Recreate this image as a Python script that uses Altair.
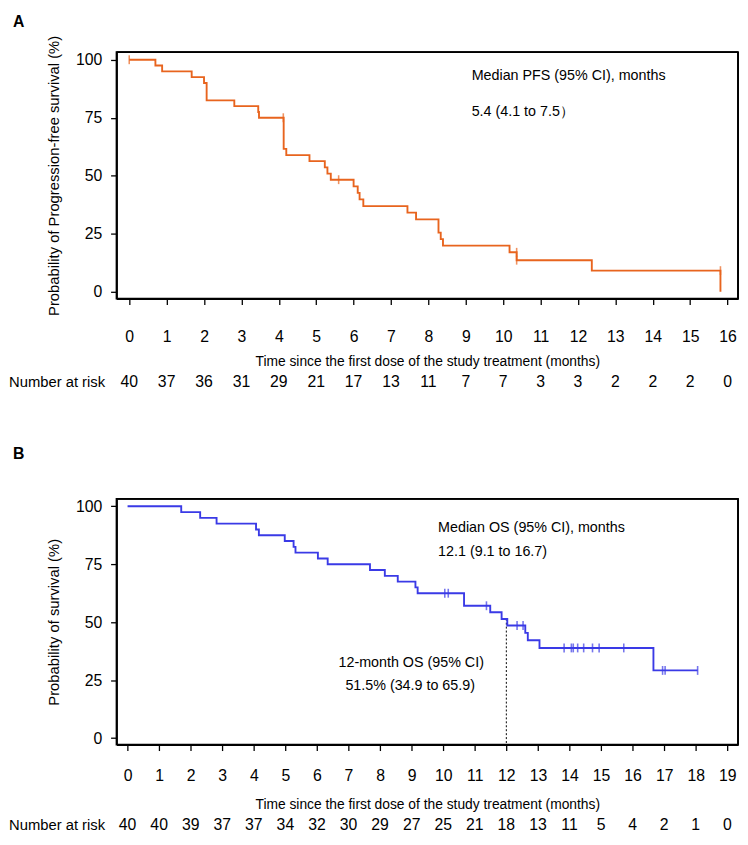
import altair as alt
import pandas as pd

# ---------------- Panel A: progression-free survival ----------------
pfs_time = [0, 0.70, 0.88, 1.67, 2.00, 2.07, 2.81, 3.45, 3.47, 4.13, 4.20, 4.82,
            5.23, 5.30, 5.39, 6.00, 6.11, 6.16, 6.26, 7.44, 7.67, 8.27, 8.33, 8.39,
            10.17, 10.36, 12.37, 15.81]
pfs_surv = [100, 97.5, 95, 92.5, 90, 82.5, 80, 77.5, 75, 61.6, 58.9, 56.3,
            53.6, 50.9, 48.3, 45.4, 42.6, 39.8, 36.9, 34.1, 31.2, 25.5, 22.7, 19.9,
            17.0, 13.6, 9.1, 0]
pfs_cens_time = [0, 4.12, 5.60, 10.36, 10.36, 15.81]
pfs_cens_surv = [100, 75, 48.3, 17.0, 13.6, 9.1]
pfs_risk_month = list(range(17))
pfs_risk_n = [40, 37, 36, 31, 29, 21, 17, 13, 11, 7, 7, 3, 3, 2, 2, 2, 0]
pfs_texts = ["Median PFS (95% CI), months", "5.4 (4.1 to 7.5）"]

# ---------------- Panel B: overall survival ----------------
os_time = [0, 1.70, 2.30, 2.82, 4.07, 4.16, 4.98, 5.26, 5.32, 6.03, 6.34, 7.68,
           8.15, 8.56, 9.12, 9.19, 10.66, 11.49, 11.85, 12.03, 12.60, 12.68, 13.05,
           16.66, 18.06]
os_surv = [100, 97.5, 95, 92.5, 90, 87.5, 85, 82.5, 80, 77.5, 75, 72.5,
           70, 67.5, 65, 62.5, 57.1, 54.3, 51.4, 48.6, 45.4, 42.2, 38.9,
           29.2, 29.2]
os_cens_time = [10.05, 10.16, 11.37, 12.34, 12.53, 13.83, 14.06, 14.12, 14.26,
                14.45, 14.73, 14.94, 15.72, 16.95, 17.03, 18.06]
os_cens_surv = [62.5, 62.5, 57.1, 48.6, 48.6, 38.9, 38.9, 38.9, 38.9,
                38.9, 38.9, 38.9, 38.9, 29.2, 29.2, 29.2]
os_risk_month = list(range(20))
os_risk_n = [40, 40, 39, 37, 37, 34, 32, 30, 29, 27, 25, 21, 18, 13, 11, 5, 4, 2, 1, 0]
os_texts = ["Median OS (95% CI), months", "12.1 (9.1 to 16.7)"]
os_12m_texts = ["12-month OS (95% CI)", "51.5% (34.9 to 65.9)"]
os_12m_time = [12]
os_12m_surv = [51.5]

x_title = "Time since the first dose of the study treatment (months)"
risk_label = "Number at risk"

FONT = "Liberation Sans"
NARROW = "Liberation Sans Narrow, Arial Narrow, Liberation Sans"
W = 630
FRAME_W = 1.8


def panel(time, surv, ctime, csurv, color, xdom, ydom, ticks, risk_m, risk_n,
          ytitle, letter, texts, text_pos, label_pad, title_y, nar_y, letter_y,
          height, extra=None):
    xs = alt.Scale(domain=xdom, nice=False, zero=False)
    ys = alt.Scale(domain=ydom, nice=False, zero=False)
    xax = alt.Axis(values=ticks, format="d", title=x_title, grid=False,
                   domain=True, domainColor="black", domainWidth=FRAME_W,
                   tickColor="black", tickSize=6, tickWidth=1.3,
                   labelFont=NARROW, labelFontSize=16, labelColor="black",
                   labelPadding=label_pad, labelBaseline="middle",
                   titleFont=FONT, titleFontSize=14, titleFontWeight="normal",
                   titleColor="black", titleY=title_y, titleBaseline="middle")
    yax = alt.Axis(values=[0, 25, 50, 75, 100], title=ytitle, grid=False,
                   domain=True, domainColor="black", domainWidth=FRAME_W,
                   tickColor="black", tickSize=6, tickWidth=1.3,
                   labelFont=FONT, labelFontSize=16, labelColor="black", labelPadding=9,
                   titleFont=FONT, titleFontSize=15, titleFontWeight="normal",
                   titleColor="black", titleX=-64, titleBaseline="middle")
    x = alt.X("t:Q", scale=xs, axis=xax)
    y = alt.Y("s:Q", scale=ys, axis=yax)

    frame_df = pd.DataFrame({"f": [0]})
    top = alt.Chart(frame_df).mark_rule(color="black", strokeWidth=FRAME_W).encode(
        x=alt.value(0), x2=alt.value(W), y=alt.value(0))
    right = alt.Chart(frame_df).mark_rule(color="black", strokeWidth=FRAME_W).encode(
        x=alt.value(W), y=alt.value(0), y2=alt.value(height))
    curve = alt.Chart(pd.DataFrame({"t": time, "s": surv})).mark_line(
        interpolate="step-after", color=color, strokeWidth=1.9).encode(x=x, y=y)
    cens = alt.Chart(pd.DataFrame({"t": ctime, "s": csurv})).mark_tick(
        orient="vertical", color=color, size=9, thickness=1.6).encode(x=x, y=y)
    nar = alt.Chart(pd.DataFrame({"t": risk_m, "n": risk_n})).mark_text(
        font=NARROW, fontSize=16, color="black", baseline="middle").encode(
        x=x, y=alt.value(nar_y), text="n:Q")
    nar_lab = alt.Chart(pd.DataFrame({"label": [risk_label]})).mark_text(
        font=FONT, fontSize=15, color="black", align="left", baseline="middle").encode(
        x=alt.value(-109), y=alt.value(nar_y), text="label:N")
    let = alt.Chart(pd.DataFrame({"label": [letter]})).mark_text(
        font=FONT, fontSize=16, fontWeight="bold", color="black", align="left",
        baseline="middle").encode(x=alt.value(-105), y=alt.value(letter_y), text="label:N")
    layers = [curve, cens, nar, nar_lab, let, top, right]
    for txt, (px, py) in zip(texts, text_pos):
        layers.append(alt.Chart(pd.DataFrame({"label": [txt]})).mark_text(
            font=FONT, fontSize=14.5, color="black", align="left", baseline="middle").encode(
            x=alt.value(px), y=alt.value(py), text="label:N"))
    if extra is not None:
        layers = [extra(x, y)] + layers
    return alt.layer(*layers).properties(width=W, height=height)


def os_extra(x, y):
    return alt.Chart(pd.DataFrame({"t": os_12m_time, "s": os_12m_surv,
                                   "s2": [-2.8]})).mark_rule(
        color="black", strokeDash=[2, 2], strokeWidth=1).encode(x=x, y=y, y2="s2:Q")


panel_a = panel(pfs_time, pfs_surv, pfs_cens_time, pfs_cens_surv, "#E8641E",
                [-0.34, 16.28], [-3, 103.3], list(range(17)), pfs_risk_month, pfs_risk_n,
                "Probability of Progression-free survival (%)", "A", pfs_texts,
                [(360, 24), (360, 61)], label_pad=32, title_y=64, nar_y=335,
                letter_y=-30, height=250)

panel_b = panel(os_time, os_surv, os_cens_time, os_cens_surv, "#3A3AE6",
                [-0.35, 19.34], [-2.8, 103.15], list(range(20)), os_risk_month, os_risk_n,
                "Probability of survival (%)", "B", os_texts + os_12m_texts,
                [(326, 29), (326, 54), (225, 166), (232, 190)], label_pad=25,
                title_y=61, nar_y=331, letter_y=-46, height=249, extra=os_extra)

chart = alt.vconcat(panel_a, panel_b, spacing=54).properties(padding=0).configure_view(
    stroke="black", strokeWidth=FRAME_W)

chart.save("out.html", embed_options={"renderer": "svg", "actions": False})
